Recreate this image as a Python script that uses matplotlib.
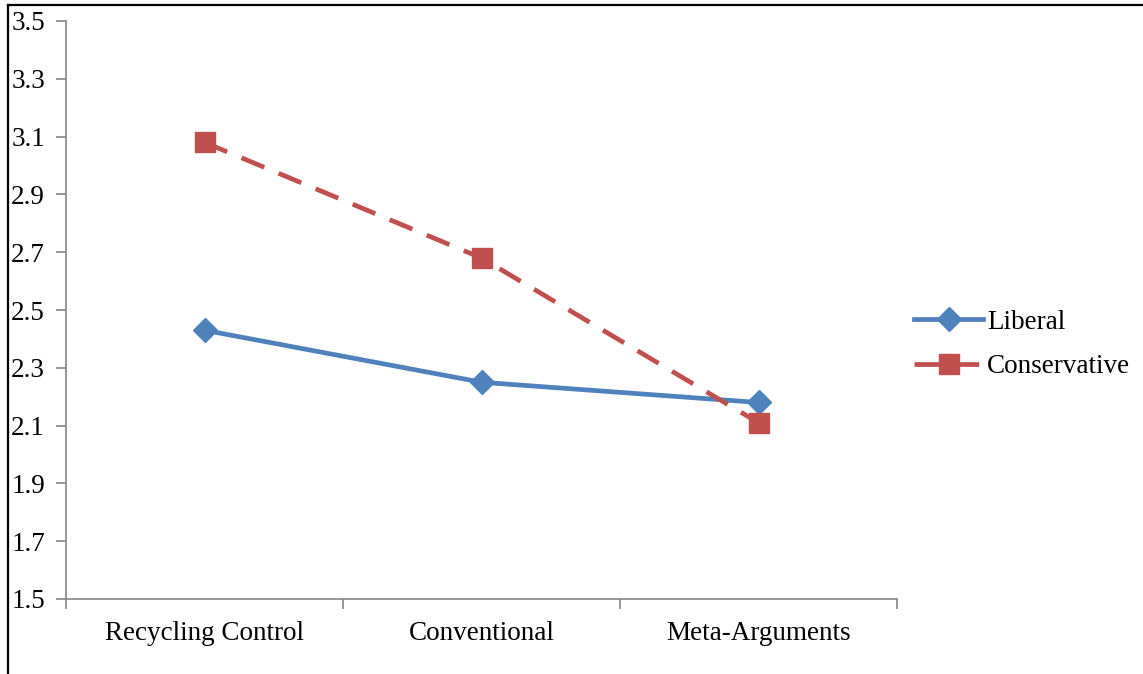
import matplotlib.pyplot as plt
from matplotlib.lines import Line2D

categories = ["Recycling Control", "Conventional", "Meta-Arguments"]
liberal = [2.43, 2.25, 2.18]
conservative = [3.08, 2.68, 2.11]
y_ticks = [1.5, 1.7, 1.9, 2.1, 2.3, 2.5, 2.7, 2.9, 3.1, 3.3, 3.5]

plt.rcParams['font.family'] = ['Liberation Serif', 'DejaVu Serif']

W, H = 1143, 674
fig = plt.figure(figsize=(W / 100, H / 100), dpi=100)
ax = fig.add_axes([66 / W, 1 - 599 / H, (897 - 66) / W, (599 - 21) / H])

x = range(len(categories))
ax.plot(x, liberal, color="#4F81BD", lw=3.4, marker="D", ms=12,
        label="Liberal")
ax.plot(x, conservative, color="#C0504D", lw=3.4, ls=(0, (5.2, 3.3)),
        marker="s", ms=15, label="Conservative")

ax.set_xlim(-0.5, len(categories) - 0.5)
ax.set_ylim(1.5, 3.5)
ax.set_yticks(y_ticks)
ax.set_yticklabels([f"{v:.1f}" for v in y_ticks])
ax.set_xticks(list(x))
ax.set_xticklabels(categories)
ax.set_xticks([i - 0.5 for i in range(len(categories) + 1)], minor=True)
ax.tick_params(axis="x", which="major", length=0, pad=16, labelsize=19.5)
ax.tick_params(axis="x", which="minor", length=7, color="#868686", width=1.2)
ax.tick_params(axis="y", length=7, color="#868686", width=1.2, pad=32.5,
               labelsize=19.5)
for lbl in ax.get_yticklabels():
    lbl.set_horizontalalignment("left")

for s in ["top", "right"]:
    ax.spines[s].set_visible(False)
for s in ["left", "bottom"]:
    ax.spines[s].set_color("#868686")
    ax.spines[s].set_linewidth(1.2)

ax.legend(loc="center left", bbox_to_anchor=((914 - 66) / 831, 0.44),
          frameon=False, borderpad=0, borderaxespad=0,
          fontsize=19.5, handlelength=2.55, handletextpad=0.15,
          labelspacing=0.72)

# border of the original image
fig.add_artist(Line2D([8 / W, 1], [1 - 5 / H, 1 - 5 / H], color="black", lw=1.6))
fig.add_artist(Line2D([8 / W, 8 / W], [0, 1 - 5 / H], color="black", lw=1.6))

fig.savefig("out.png", dpi=100)
